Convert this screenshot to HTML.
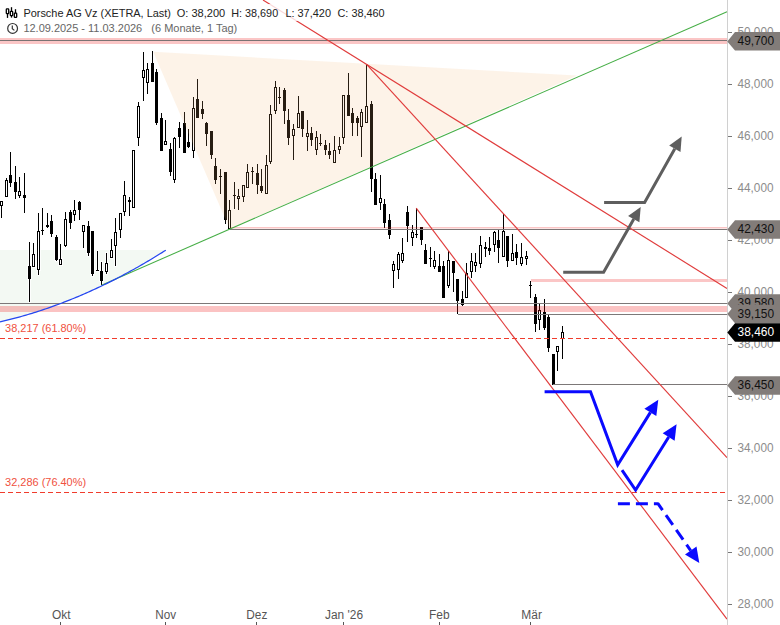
<!DOCTYPE html>
<html><head><meta charset="utf-8"><style>
html,body{margin:0;padding:0;background:#fff;}
body{width:780px;height:625px;overflow:hidden;position:relative;font-family:"Liberation Sans", sans-serif;}
</style></head><body>
<svg width="780" height="625" viewBox="0 0 780 625" style="position:absolute;left:0;top:0" font-family='"Liberation Sans", sans-serif' font-size="12">
<rect width="780" height="625" fill="#fff"/>
<polygon points="0,250 165.8,250 165.8,250.20 164.0,251.34 162.0,252.60 160.0,253.84 158.0,255.08 156.0,256.31 154.0,257.53 152.0,258.74 150.0,259.94 148.0,261.13 146.0,262.31 144.0,263.48 142.0,264.63 140.0,265.78 138.0,266.92 136.0,268.06 134.0,269.18 132.0,270.29 130.0,271.39 128.0,272.48 126.0,273.56 124.0,274.63 122.0,275.69 120.0,276.74 118.0,277.79 116.0,278.82 114.0,279.84 112.0,280.85 110.0,281.85 108.0,282.85 106.0,283.83 104.0,284.80 102.0,285.77 100.0,286.72 98.0,287.66 96.0,288.60 94.0,289.52 92.0,290.44 90.0,291.34 88.0,292.23 86.0,293.12 84.0,293.99 82.0,294.86 80.0,295.72 78.0,296.56 76.0,297.40 74.0,298.22 72.0,299.04 70.0,299.84 68.0,300.64 66.0,301.43 64.0,302.20 62.0,302.97 60.0,303.73 58.0,304.48 56.0,305.21 54.0,305.94 52.0,306.66 50.0,307.37 48.0,308.07 46.0,308.75 44.0,309.43 42.0,310.10 40.0,310.76 38.0,311.41 36.0,312.05 34.0,312.68 32.0,313.30 30.0,313.91 28.0,314.51 26.0,315.10 24.0,315.68 22.0,316.25 20.0,316.81 18.0,317.36 16.0,317.90 14.0,318.43 12.0,318.96 10.0,319.47 8.0,319.97 6.0,320.46 4.0,320.94 2.0,321.42 0.0,321.88" fill="rgb(100,180,100)" fill-opacity="0.08"/>
<g fill="#fff" fill-opacity="0.8" shape-rendering="crispEdges"><rect x="-1" y="200" width="5" height="7"/><rect x="0" y="206" width="3" height="13"/><rect x="4" y="179" width="5" height="19"/><rect x="5" y="177" width="3" height="3"/><rect x="8" y="174" width="5" height="10"/><rect x="9" y="151" width="3" height="24"/><rect x="9" y="183" width="3" height="5"/><rect x="13" y="181" width="5" height="12"/><rect x="14" y="165" width="3" height="17"/><rect x="14" y="192" width="3" height="8"/><rect x="17" y="190" width="5" height="7"/><rect x="18" y="176" width="3" height="15"/><rect x="18" y="196" width="3" height="3"/><rect x="22" y="194" width="5" height="5"/><rect x="23" y="172" width="3" height="23"/><rect x="23" y="198" width="3" height="16"/><rect x="27" y="265" width="5" height="15"/><rect x="28" y="241" width="3" height="25"/><rect x="28" y="279" width="3" height="24"/><rect x="31" y="253" width="5" height="15"/><rect x="32" y="242" width="3" height="12"/><rect x="36" y="230" width="5" height="41"/><rect x="37" y="212" width="3" height="19"/><rect x="37" y="270" width="3" height="6"/><rect x="40" y="229" width="5" height="3"/><rect x="41" y="207" width="3" height="23"/><rect x="41" y="231" width="3" height="5"/><rect x="45" y="224" width="5" height="4"/><rect x="46" y="212" width="3" height="13"/><rect x="46" y="227" width="3" height="2"/><rect x="49" y="220" width="5" height="15"/><rect x="50" y="214" width="3" height="7"/><rect x="50" y="234" width="3" height="4"/><rect x="54" y="236" width="5" height="25"/><rect x="55" y="234" width="3" height="3"/><rect x="55" y="260" width="3" height="2"/><rect x="58" y="258" width="5" height="8"/><rect x="59" y="243" width="3" height="16"/><rect x="63" y="218" width="5" height="29"/><rect x="64" y="211" width="3" height="8"/><rect x="64" y="246" width="3" height="2"/><rect x="68" y="211" width="5" height="13"/><rect x="69" y="209" width="3" height="3"/><rect x="69" y="223" width="3" height="7"/><rect x="72" y="209" width="5" height="7"/><rect x="73" y="199" width="3" height="11"/><rect x="73" y="215" width="3" height="7"/><rect x="77" y="201" width="5" height="10"/><rect x="78" y="200" width="3" height="2"/><rect x="78" y="210" width="3" height="11"/><rect x="81" y="224" width="5" height="9"/><rect x="82" y="232" width="3" height="17"/><rect x="86" y="225" width="5" height="29"/><rect x="87" y="220" width="3" height="6"/><rect x="87" y="253" width="3" height="4"/><rect x="90" y="230" width="5" height="45"/><rect x="91" y="274" width="3" height="3"/><rect x="95" y="269" width="5" height="3"/><rect x="96" y="250" width="3" height="20"/><rect x="99" y="270" width="5" height="12"/><rect x="100" y="261" width="3" height="10"/><rect x="100" y="281" width="3" height="5"/><rect x="104" y="262" width="5" height="11"/><rect x="105" y="252" width="3" height="11"/><rect x="105" y="272" width="3" height="3"/><rect x="109" y="249" width="5" height="10"/><rect x="110" y="238" width="3" height="12"/><rect x="113" y="231" width="5" height="16"/><rect x="114" y="217" width="3" height="15"/><rect x="114" y="246" width="3" height="21"/><rect x="118" y="212" width="5" height="19"/><rect x="119" y="230" width="3" height="9"/><rect x="122" y="194" width="5" height="19"/><rect x="123" y="180" width="3" height="15"/><rect x="123" y="212" width="3" height="5"/><rect x="127" y="199" width="5" height="4"/><rect x="128" y="196" width="3" height="4"/><rect x="128" y="202" width="3" height="15"/><rect x="131" y="149" width="5" height="60"/><rect x="136" y="105" width="5" height="34"/><rect x="137" y="101" width="3" height="5"/><rect x="137" y="138" width="3" height="9"/><rect x="141" y="69" width="5" height="10"/><rect x="142" y="51" width="3" height="19"/><rect x="142" y="78" width="3" height="24"/><rect x="145" y="68" width="5" height="16"/><rect x="146" y="62" width="3" height="7"/><rect x="146" y="83" width="3" height="12"/><rect x="150" y="62" width="5" height="21"/><rect x="151" y="50" width="3" height="13"/><rect x="154" y="71" width="5" height="53"/><rect x="155" y="68" width="3" height="4"/><rect x="155" y="123" width="3" height="3"/><rect x="159" y="117" width="5" height="35"/><rect x="160" y="112" width="3" height="6"/><rect x="163" y="140" width="5" height="6"/><rect x="164" y="119" width="3" height="22"/><rect x="168" y="148" width="5" height="25"/><rect x="169" y="142" width="3" height="7"/><rect x="169" y="172" width="3" height="5"/><rect x="172" y="137" width="5" height="44"/><rect x="173" y="136" width="3" height="2"/><rect x="173" y="180" width="3" height="4"/><rect x="177" y="127" width="5" height="11"/><rect x="178" y="121" width="3" height="7"/><rect x="178" y="137" width="3" height="12"/><rect x="182" y="122" width="5" height="32"/><rect x="183" y="111" width="3" height="12"/><rect x="186" y="141" width="5" height="7"/><rect x="187" y="128" width="3" height="14"/><rect x="187" y="147" width="3" height="2"/><rect x="191" y="107" width="5" height="45"/><rect x="192" y="96" width="3" height="12"/><rect x="192" y="151" width="3" height="8"/><rect x="195" y="98" width="5" height="21"/><rect x="196" y="78" width="3" height="21"/><rect x="200" y="108" width="5" height="7"/><rect x="201" y="100" width="3" height="9"/><rect x="201" y="114" width="3" height="6"/><rect x="204" y="122" width="5" height="13"/><rect x="205" y="121" width="3" height="2"/><rect x="205" y="134" width="3" height="13"/><rect x="209" y="130" width="5" height="26"/><rect x="210" y="155" width="3" height="5"/><rect x="213" y="165" width="5" height="16"/><rect x="214" y="157" width="3" height="9"/><rect x="214" y="180" width="3" height="5"/><rect x="218" y="175" width="5" height="3"/><rect x="219" y="168" width="3" height="8"/><rect x="219" y="177" width="3" height="18"/><rect x="223" y="171" width="5" height="50"/><rect x="224" y="220" width="3" height="5"/><rect x="227" y="209" width="5" height="21"/><rect x="228" y="199" width="3" height="11"/><rect x="232" y="194" width="5" height="3"/><rect x="233" y="181" width="3" height="14"/><rect x="233" y="196" width="3" height="14"/><rect x="236" y="195" width="5" height="5"/><rect x="237" y="188" width="3" height="8"/><rect x="237" y="199" width="3" height="12"/><rect x="241" y="184" width="5" height="14"/><rect x="242" y="197" width="3" height="6"/><rect x="245" y="171" width="5" height="18"/><rect x="246" y="163" width="3" height="9"/><rect x="250" y="170" width="5" height="3"/><rect x="251" y="166" width="3" height="5"/><rect x="251" y="172" width="3" height="13"/><rect x="255" y="172" width="5" height="14"/><rect x="256" y="163" width="3" height="10"/><rect x="256" y="185" width="3" height="10"/><rect x="259" y="185" width="5" height="7"/><rect x="260" y="168" width="3" height="18"/><rect x="260" y="191" width="3" height="3"/><rect x="264" y="164" width="5" height="31"/><rect x="265" y="154" width="3" height="11"/><rect x="268" y="113" width="5" height="50"/><rect x="269" y="104" width="3" height="10"/><rect x="269" y="162" width="3" height="3"/><rect x="273" y="86" width="5" height="26"/><rect x="274" y="80" width="3" height="7"/><rect x="274" y="111" width="3" height="4"/><rect x="277" y="96" width="5" height="3"/><rect x="278" y="86" width="3" height="11"/><rect x="278" y="98" width="3" height="7"/><rect x="282" y="89" width="5" height="23"/><rect x="283" y="87" width="3" height="3"/><rect x="283" y="111" width="3" height="14"/><rect x="286" y="119" width="5" height="20"/><rect x="287" y="108" width="3" height="12"/><rect x="287" y="138" width="3" height="8"/><rect x="291" y="128" width="5" height="9"/><rect x="292" y="123" width="3" height="6"/><rect x="292" y="136" width="3" height="25"/><rect x="296" y="112" width="5" height="17"/><rect x="297" y="95" width="3" height="18"/><rect x="300" y="110" width="5" height="20"/><rect x="301" y="129" width="3" height="9"/><rect x="305" y="132" width="5" height="6"/><rect x="306" y="119" width="3" height="14"/><rect x="306" y="137" width="3" height="15"/><rect x="309" y="132" width="5" height="9"/><rect x="310" y="126" width="3" height="7"/><rect x="310" y="140" width="3" height="7"/><rect x="314" y="136" width="5" height="15"/><rect x="315" y="130" width="3" height="7"/><rect x="315" y="150" width="3" height="6"/><rect x="318" y="142" width="5" height="3"/><rect x="319" y="133" width="3" height="10"/><rect x="319" y="144" width="3" height="3"/><rect x="323" y="144" width="5" height="7"/><rect x="324" y="139" width="3" height="6"/><rect x="324" y="150" width="3" height="6"/><rect x="327" y="150" width="5" height="6"/><rect x="328" y="142" width="3" height="9"/><rect x="328" y="155" width="3" height="5"/><rect x="332" y="149" width="5" height="15"/><rect x="333" y="135" width="3" height="15"/><rect x="337" y="145" width="5" height="6"/><rect x="338" y="136" width="3" height="10"/><rect x="338" y="150" width="3" height="5"/><rect x="341" y="94" width="5" height="45"/><rect x="342" y="138" width="3" height="7"/><rect x="346" y="94" width="5" height="23"/><rect x="347" y="72" width="3" height="23"/><rect x="350" y="112" width="5" height="12"/><rect x="351" y="107" width="3" height="6"/><rect x="351" y="123" width="3" height="14"/><rect x="355" y="117" width="5" height="7"/><rect x="356" y="115" width="3" height="3"/><rect x="356" y="123" width="3" height="14"/><rect x="359" y="111" width="5" height="17"/><rect x="360" y="108" width="3" height="4"/><rect x="360" y="127" width="3" height="31"/><rect x="364" y="105" width="5" height="19"/><rect x="365" y="63" width="3" height="43"/><rect x="369" y="103" width="5" height="77"/><rect x="370" y="100" width="3" height="4"/><rect x="370" y="179" width="3" height="14"/><rect x="373" y="178" width="5" height="28"/><rect x="374" y="172" width="3" height="7"/><rect x="378" y="197" width="5" height="7"/><rect x="379" y="174" width="3" height="24"/><rect x="379" y="203" width="3" height="8"/><rect x="382" y="203" width="5" height="21"/><rect x="383" y="198" width="3" height="6"/><rect x="383" y="223" width="3" height="6"/><rect x="387" y="219" width="5" height="17"/><rect x="388" y="213" width="3" height="7"/><rect x="388" y="235" width="3" height="5"/><rect x="391" y="263" width="5" height="9"/><rect x="392" y="260" width="3" height="4"/><rect x="392" y="271" width="3" height="18"/><rect x="396" y="253" width="5" height="18"/><rect x="397" y="251" width="3" height="3"/><rect x="397" y="270" width="3" height="10"/><rect x="400" y="252" width="5" height="10"/><rect x="401" y="237" width="3" height="16"/><rect x="401" y="261" width="3" height="3"/><rect x="405" y="211" width="5" height="16"/><rect x="406" y="205" width="3" height="7"/><rect x="406" y="226" width="3" height="17"/><rect x="410" y="231" width="5" height="8"/><rect x="411" y="224" width="3" height="8"/><rect x="411" y="238" width="3" height="9"/><rect x="414" y="233" width="5" height="3"/><rect x="415" y="207" width="3" height="27"/><rect x="415" y="235" width="3" height="4"/><rect x="419" y="226" width="5" height="15"/><rect x="420" y="240" width="3" height="6"/><rect x="423" y="249" width="5" height="16"/><rect x="424" y="243" width="3" height="7"/><rect x="428" y="257" width="5" height="3"/><rect x="429" y="246" width="3" height="12"/><rect x="429" y="259" width="3" height="9"/><rect x="432" y="259" width="5" height="9"/><rect x="433" y="250" width="3" height="10"/><rect x="433" y="267" width="3" height="3"/><rect x="437" y="265" width="5" height="8"/><rect x="438" y="253" width="3" height="13"/><rect x="441" y="265" width="5" height="34"/><rect x="442" y="260" width="3" height="6"/><rect x="446" y="259" width="5" height="28"/><rect x="447" y="250" width="3" height="10"/><rect x="447" y="286" width="3" height="3"/><rect x="451" y="260" width="5" height="14"/><rect x="452" y="273" width="3" height="20"/><rect x="455" y="278" width="5" height="24"/><rect x="456" y="301" width="3" height="14"/><rect x="460" y="298" width="5" height="8"/><rect x="461" y="290" width="3" height="9"/><rect x="461" y="305" width="3" height="2"/><rect x="464" y="272" width="5" height="27"/><rect x="465" y="262" width="3" height="11"/><rect x="469" y="260" width="5" height="13"/><rect x="470" y="252" width="3" height="9"/><rect x="470" y="272" width="3" height="7"/><rect x="473" y="261" width="5" height="6"/><rect x="474" y="252" width="3" height="10"/><rect x="474" y="266" width="3" height="7"/><rect x="478" y="244" width="5" height="21"/><rect x="479" y="235" width="3" height="10"/><rect x="479" y="264" width="3" height="5"/><rect x="483" y="246" width="5" height="4"/><rect x="484" y="241" width="3" height="6"/><rect x="484" y="249" width="3" height="9"/><rect x="487" y="247" width="5" height="5"/><rect x="488" y="236" width="3" height="12"/><rect x="488" y="251" width="3" height="5"/><rect x="492" y="231" width="5" height="15"/><rect x="493" y="230" width="3" height="2"/><rect x="493" y="245" width="3" height="8"/><rect x="496" y="239" width="5" height="10"/><rect x="497" y="229" width="3" height="11"/><rect x="497" y="248" width="3" height="16"/><rect x="501" y="230" width="5" height="28"/><rect x="502" y="213" width="3" height="18"/><rect x="505" y="235" width="5" height="27"/><rect x="506" y="261" width="3" height="7"/><rect x="510" y="252" width="5" height="10"/><rect x="511" y="233" width="3" height="20"/><rect x="514" y="251" width="5" height="8"/><rect x="515" y="243" width="3" height="9"/><rect x="515" y="258" width="3" height="8"/><rect x="519" y="256" width="5" height="9"/><rect x="520" y="242" width="3" height="15"/><rect x="520" y="264" width="3" height="3"/><rect x="524" y="255" width="5" height="4"/><rect x="525" y="250" width="3" height="6"/><rect x="525" y="258" width="3" height="8"/><rect x="528" y="284" width="5" height="3"/><rect x="529" y="280" width="3" height="5"/><rect x="529" y="286" width="3" height="13"/><rect x="533" y="296" width="5" height="29"/><rect x="534" y="293" width="3" height="4"/><rect x="534" y="324" width="3" height="9"/><rect x="537" y="309" width="5" height="12"/><rect x="538" y="303" width="3" height="7"/><rect x="538" y="320" width="3" height="11"/><rect x="542" y="311" width="5" height="18"/><rect x="543" y="298" width="3" height="14"/><rect x="543" y="328" width="3" height="3"/><rect x="546" y="316" width="5" height="33"/><rect x="547" y="314" width="3" height="3"/><rect x="547" y="348" width="3" height="5"/><rect x="551" y="353" width="5" height="33"/><rect x="555" y="345" width="5" height="8"/><rect x="556" y="352" width="3" height="20"/><rect x="560" y="331" width="5" height="9"/><rect x="561" y="325" width="3" height="7"/><rect x="561" y="339" width="3" height="21"/></g>
<g fill="#000" shape-rendering="crispEdges"><rect x="1" y="206" width="1" height="12"/><rect x="0" y="201" width="3" height="5"/><rect x="1" y="202" width="1" height="3" fill="#fff"/><rect x="6" y="178" width="1" height="2"/><rect x="5" y="180" width="3" height="17"/><rect x="6" y="181" width="1" height="15" fill="#fff"/><rect x="10" y="152" width="1" height="23"/><rect x="10" y="183" width="1" height="4"/><rect x="9" y="175" width="3" height="8"/><rect x="15" y="166" width="1" height="16"/><rect x="15" y="192" width="1" height="7"/><rect x="14" y="182" width="3" height="10"/><rect x="19" y="177" width="1" height="14"/><rect x="19" y="196" width="1" height="2"/><rect x="18" y="191" width="3" height="5"/><rect x="19" y="192" width="1" height="3" fill="#fff"/><rect x="24" y="173" width="1" height="22"/><rect x="24" y="198" width="1" height="15"/><rect x="23" y="195" width="3" height="3"/><rect x="29" y="242" width="1" height="24"/><rect x="29" y="279" width="1" height="23"/><rect x="28" y="266" width="3" height="13"/><rect x="33" y="243" width="1" height="11"/><rect x="32" y="254" width="3" height="13"/><rect x="33" y="255" width="1" height="11" fill="#fff"/><rect x="38" y="213" width="1" height="18"/><rect x="38" y="270" width="1" height="5"/><rect x="37" y="231" width="3" height="39"/><rect x="38" y="232" width="1" height="37" fill="#fff"/><rect x="42" y="208" width="1" height="22"/><rect x="42" y="231" width="1" height="4"/><rect x="41" y="230" width="3" height="1"/><rect x="47" y="213" width="1" height="12"/><rect x="47" y="227" width="1" height="1"/><rect x="46" y="225" width="3" height="2"/><rect x="51" y="215" width="1" height="6"/><rect x="51" y="234" width="1" height="3"/><rect x="50" y="221" width="3" height="13"/><rect x="56" y="235" width="1" height="2"/><rect x="56" y="260" width="1" height="1"/><rect x="55" y="237" width="3" height="23"/><rect x="60" y="244" width="1" height="15"/><rect x="59" y="259" width="3" height="6"/><rect x="60" y="260" width="1" height="4" fill="#fff"/><rect x="65" y="212" width="1" height="7"/><rect x="65" y="246" width="1" height="1"/><rect x="64" y="219" width="3" height="27"/><rect x="65" y="220" width="1" height="25" fill="#fff"/><rect x="70" y="210" width="1" height="2"/><rect x="70" y="223" width="1" height="6"/><rect x="69" y="212" width="3" height="11"/><rect x="74" y="200" width="1" height="10"/><rect x="74" y="215" width="1" height="6"/><rect x="73" y="210" width="3" height="5"/><rect x="74" y="211" width="1" height="3" fill="#fff"/><rect x="79" y="201" width="1" height="1"/><rect x="79" y="210" width="1" height="10"/><rect x="78" y="202" width="3" height="8"/><rect x="83" y="232" width="1" height="16"/><rect x="82" y="225" width="3" height="7"/><rect x="83" y="226" width="1" height="5" fill="#fff"/><rect x="88" y="221" width="1" height="5"/><rect x="88" y="253" width="1" height="3"/><rect x="87" y="226" width="3" height="27"/><rect x="92" y="274" width="1" height="2"/><rect x="91" y="231" width="3" height="43"/><rect x="97" y="251" width="1" height="19"/><rect x="96" y="270" width="3" height="1"/><rect x="101" y="262" width="1" height="9"/><rect x="101" y="281" width="1" height="4"/><rect x="100" y="271" width="3" height="10"/><rect x="106" y="253" width="1" height="10"/><rect x="106" y="272" width="1" height="2"/><rect x="105" y="263" width="3" height="9"/><rect x="106" y="264" width="1" height="7" fill="#fff"/><rect x="111" y="239" width="1" height="11"/><rect x="110" y="250" width="3" height="8"/><rect x="111" y="251" width="1" height="6" fill="#fff"/><rect x="115" y="218" width="1" height="14"/><rect x="115" y="246" width="1" height="20"/><rect x="114" y="232" width="3" height="14"/><rect x="115" y="233" width="1" height="12" fill="#fff"/><rect x="120" y="230" width="1" height="8"/><rect x="119" y="213" width="3" height="17"/><rect x="120" y="214" width="1" height="15" fill="#fff"/><rect x="124" y="181" width="1" height="14"/><rect x="124" y="212" width="1" height="4"/><rect x="123" y="195" width="3" height="17"/><rect x="124" y="196" width="1" height="15" fill="#fff"/><rect x="129" y="197" width="1" height="3"/><rect x="129" y="202" width="1" height="14"/><rect x="128" y="200" width="3" height="2"/><rect x="132" y="150" width="3" height="58"/><rect x="133" y="151" width="1" height="56" fill="#fff"/><rect x="138" y="102" width="1" height="4"/><rect x="138" y="138" width="1" height="8"/><rect x="137" y="106" width="3" height="32"/><rect x="138" y="107" width="1" height="30" fill="#fff"/><rect x="143" y="52" width="1" height="18"/><rect x="143" y="78" width="1" height="23"/><rect x="142" y="70" width="3" height="8"/><rect x="143" y="71" width="1" height="6" fill="#fff"/><rect x="147" y="63" width="1" height="6"/><rect x="147" y="83" width="1" height="11"/><rect x="146" y="69" width="3" height="14"/><rect x="147" y="70" width="1" height="12" fill="#fff"/><rect x="152" y="51" width="1" height="12"/><rect x="151" y="63" width="3" height="19"/><rect x="156" y="69" width="1" height="3"/><rect x="156" y="123" width="1" height="2"/><rect x="155" y="72" width="3" height="51"/><rect x="161" y="113" width="1" height="5"/><rect x="160" y="118" width="3" height="33"/><rect x="165" y="120" width="1" height="21"/><rect x="164" y="141" width="3" height="4"/><rect x="165" y="142" width="1" height="2" fill="#fff"/><rect x="170" y="143" width="1" height="6"/><rect x="170" y="172" width="1" height="4"/><rect x="169" y="149" width="3" height="23"/><rect x="174" y="137" width="1" height="1"/><rect x="174" y="180" width="1" height="3"/><rect x="173" y="138" width="3" height="42"/><rect x="174" y="139" width="1" height="40" fill="#fff"/><rect x="179" y="122" width="1" height="6"/><rect x="179" y="137" width="1" height="11"/><rect x="178" y="128" width="3" height="9"/><rect x="184" y="112" width="1" height="11"/><rect x="183" y="123" width="3" height="30"/><rect x="188" y="129" width="1" height="13"/><rect x="188" y="147" width="1" height="1"/><rect x="187" y="142" width="3" height="5"/><rect x="193" y="97" width="1" height="11"/><rect x="193" y="151" width="1" height="7"/><rect x="192" y="108" width="3" height="43"/><rect x="193" y="109" width="1" height="41" fill="#fff"/><rect x="197" y="79" width="1" height="20"/><rect x="196" y="99" width="3" height="19"/><rect x="202" y="101" width="1" height="8"/><rect x="202" y="114" width="1" height="5"/><rect x="201" y="109" width="3" height="5"/><rect x="206" y="122" width="1" height="1"/><rect x="206" y="134" width="1" height="12"/><rect x="205" y="123" width="3" height="11"/><rect x="211" y="155" width="1" height="4"/><rect x="210" y="131" width="3" height="24"/><rect x="215" y="158" width="1" height="8"/><rect x="215" y="180" width="1" height="4"/><rect x="214" y="166" width="3" height="14"/><rect x="220" y="169" width="1" height="7"/><rect x="220" y="177" width="1" height="17"/><rect x="219" y="176" width="3" height="1"/><rect x="225" y="220" width="1" height="4"/><rect x="224" y="172" width="3" height="48"/><rect x="229" y="200" width="1" height="10"/><rect x="228" y="210" width="3" height="19"/><rect x="229" y="211" width="1" height="17" fill="#fff"/><rect x="234" y="182" width="1" height="13"/><rect x="234" y="196" width="1" height="13"/><rect x="233" y="195" width="3" height="1"/><rect x="238" y="189" width="1" height="7"/><rect x="238" y="199" width="1" height="11"/><rect x="237" y="196" width="3" height="3"/><rect x="238" y="197" width="1" height="1" fill="#fff"/><rect x="243" y="197" width="1" height="5"/><rect x="242" y="185" width="3" height="12"/><rect x="243" y="186" width="1" height="10" fill="#fff"/><rect x="247" y="164" width="1" height="8"/><rect x="246" y="172" width="3" height="16"/><rect x="247" y="173" width="1" height="14" fill="#fff"/><rect x="252" y="167" width="1" height="4"/><rect x="252" y="172" width="1" height="12"/><rect x="251" y="171" width="3" height="1"/><rect x="257" y="164" width="1" height="9"/><rect x="257" y="185" width="1" height="9"/><rect x="256" y="173" width="3" height="12"/><rect x="261" y="169" width="1" height="17"/><rect x="261" y="191" width="1" height="2"/><rect x="260" y="186" width="3" height="5"/><rect x="266" y="155" width="1" height="10"/><rect x="265" y="165" width="3" height="29"/><rect x="266" y="166" width="1" height="27" fill="#fff"/><rect x="270" y="105" width="1" height="9"/><rect x="270" y="162" width="1" height="2"/><rect x="269" y="114" width="3" height="48"/><rect x="270" y="115" width="1" height="46" fill="#fff"/><rect x="275" y="81" width="1" height="6"/><rect x="275" y="111" width="1" height="3"/><rect x="274" y="87" width="3" height="24"/><rect x="275" y="88" width="1" height="22" fill="#fff"/><rect x="279" y="87" width="1" height="10"/><rect x="279" y="98" width="1" height="6"/><rect x="278" y="97" width="3" height="1"/><rect x="284" y="88" width="1" height="2"/><rect x="284" y="111" width="1" height="13"/><rect x="283" y="90" width="3" height="21"/><rect x="288" y="109" width="1" height="11"/><rect x="288" y="138" width="1" height="7"/><rect x="287" y="120" width="3" height="18"/><rect x="293" y="124" width="1" height="5"/><rect x="293" y="136" width="1" height="24"/><rect x="292" y="129" width="3" height="7"/><rect x="293" y="130" width="1" height="5" fill="#fff"/><rect x="298" y="96" width="1" height="17"/><rect x="297" y="113" width="3" height="15"/><rect x="298" y="114" width="1" height="13" fill="#fff"/><rect x="302" y="129" width="1" height="8"/><rect x="301" y="111" width="3" height="18"/><rect x="307" y="120" width="1" height="13"/><rect x="307" y="137" width="1" height="14"/><rect x="306" y="133" width="3" height="4"/><rect x="307" y="134" width="1" height="2" fill="#fff"/><rect x="311" y="127" width="1" height="6"/><rect x="311" y="140" width="1" height="6"/><rect x="310" y="133" width="3" height="7"/><rect x="316" y="131" width="1" height="6"/><rect x="316" y="150" width="1" height="5"/><rect x="315" y="137" width="3" height="13"/><rect x="316" y="138" width="1" height="11" fill="#fff"/><rect x="320" y="134" width="1" height="9"/><rect x="320" y="144" width="1" height="2"/><rect x="319" y="143" width="3" height="1"/><rect x="325" y="140" width="1" height="5"/><rect x="325" y="150" width="1" height="5"/><rect x="324" y="145" width="3" height="5"/><rect x="329" y="143" width="1" height="8"/><rect x="329" y="155" width="1" height="4"/><rect x="328" y="151" width="3" height="4"/><rect x="334" y="136" width="1" height="14"/><rect x="333" y="150" width="3" height="13"/><rect x="334" y="151" width="1" height="11" fill="#fff"/><rect x="339" y="137" width="1" height="9"/><rect x="339" y="150" width="1" height="4"/><rect x="338" y="146" width="3" height="4"/><rect x="339" y="147" width="1" height="2" fill="#fff"/><rect x="343" y="138" width="1" height="6"/><rect x="342" y="95" width="3" height="43"/><rect x="343" y="96" width="1" height="41" fill="#fff"/><rect x="348" y="73" width="1" height="22"/><rect x="347" y="95" width="3" height="21"/><rect x="352" y="108" width="1" height="5"/><rect x="352" y="123" width="1" height="13"/><rect x="351" y="113" width="3" height="10"/><rect x="357" y="116" width="1" height="2"/><rect x="357" y="123" width="1" height="13"/><rect x="356" y="118" width="3" height="5"/><rect x="361" y="109" width="1" height="3"/><rect x="361" y="127" width="1" height="30"/><rect x="360" y="112" width="3" height="15"/><rect x="361" y="113" width="1" height="13" fill="#fff"/><rect x="366" y="64" width="1" height="42"/><rect x="365" y="106" width="3" height="17"/><rect x="366" y="107" width="1" height="15" fill="#fff"/><rect x="371" y="101" width="1" height="3"/><rect x="371" y="179" width="1" height="13"/><rect x="370" y="104" width="3" height="75"/><rect x="375" y="173" width="1" height="6"/><rect x="374" y="179" width="3" height="26"/><rect x="380" y="175" width="1" height="23"/><rect x="380" y="203" width="1" height="7"/><rect x="379" y="198" width="3" height="5"/><rect x="380" y="199" width="1" height="3" fill="#fff"/><rect x="384" y="199" width="1" height="5"/><rect x="384" y="223" width="1" height="5"/><rect x="383" y="204" width="3" height="19"/><rect x="389" y="214" width="1" height="6"/><rect x="389" y="235" width="1" height="4"/><rect x="388" y="220" width="3" height="15"/><rect x="393" y="261" width="1" height="3"/><rect x="393" y="271" width="1" height="17"/><rect x="392" y="264" width="3" height="7"/><rect x="393" y="265" width="1" height="5" fill="#fff"/><rect x="398" y="252" width="1" height="2"/><rect x="398" y="270" width="1" height="9"/><rect x="397" y="254" width="3" height="16"/><rect x="398" y="255" width="1" height="14" fill="#fff"/><rect x="402" y="238" width="1" height="15"/><rect x="402" y="261" width="1" height="2"/><rect x="401" y="253" width="3" height="8"/><rect x="402" y="254" width="1" height="6" fill="#fff"/><rect x="407" y="206" width="1" height="6"/><rect x="407" y="226" width="1" height="16"/><rect x="406" y="212" width="3" height="14"/><rect x="412" y="225" width="1" height="7"/><rect x="412" y="238" width="1" height="8"/><rect x="411" y="232" width="3" height="6"/><rect x="412" y="233" width="1" height="4" fill="#fff"/><rect x="416" y="208" width="1" height="26"/><rect x="416" y="235" width="1" height="3"/><rect x="415" y="234" width="3" height="1"/><rect x="421" y="240" width="1" height="5"/><rect x="420" y="227" width="3" height="13"/><rect x="425" y="244" width="1" height="6"/><rect x="424" y="250" width="3" height="14"/><rect x="430" y="247" width="1" height="11"/><rect x="430" y="259" width="1" height="8"/><rect x="429" y="258" width="3" height="1"/><rect x="434" y="251" width="1" height="9"/><rect x="434" y="267" width="1" height="2"/><rect x="433" y="260" width="3" height="7"/><rect x="434" y="261" width="1" height="5" fill="#fff"/><rect x="439" y="254" width="1" height="12"/><rect x="438" y="266" width="3" height="6"/><rect x="443" y="261" width="1" height="5"/><rect x="442" y="266" width="3" height="32"/><rect x="448" y="251" width="1" height="9"/><rect x="448" y="286" width="1" height="2"/><rect x="447" y="260" width="3" height="26"/><rect x="448" y="261" width="1" height="24" fill="#fff"/><rect x="453" y="273" width="1" height="19"/><rect x="452" y="261" width="3" height="12"/><rect x="457" y="301" width="1" height="13"/><rect x="456" y="279" width="3" height="22"/><rect x="462" y="291" width="1" height="8"/><rect x="462" y="305" width="1" height="1"/><rect x="461" y="299" width="3" height="6"/><rect x="466" y="263" width="1" height="10"/><rect x="465" y="273" width="3" height="25"/><rect x="466" y="274" width="1" height="23" fill="#fff"/><rect x="471" y="253" width="1" height="8"/><rect x="471" y="272" width="1" height="6"/><rect x="470" y="261" width="3" height="11"/><rect x="471" y="262" width="1" height="9" fill="#fff"/><rect x="475" y="253" width="1" height="9"/><rect x="475" y="266" width="1" height="6"/><rect x="474" y="262" width="3" height="4"/><rect x="475" y="263" width="1" height="2" fill="#fff"/><rect x="480" y="236" width="1" height="9"/><rect x="480" y="264" width="1" height="4"/><rect x="479" y="245" width="3" height="19"/><rect x="480" y="246" width="1" height="17" fill="#fff"/><rect x="485" y="242" width="1" height="5"/><rect x="485" y="249" width="1" height="8"/><rect x="484" y="247" width="3" height="2"/><rect x="489" y="237" width="1" height="11"/><rect x="489" y="251" width="1" height="4"/><rect x="488" y="248" width="3" height="3"/><rect x="494" y="231" width="1" height="1"/><rect x="494" y="245" width="1" height="7"/><rect x="493" y="232" width="3" height="13"/><rect x="494" y="233" width="1" height="11" fill="#fff"/><rect x="498" y="230" width="1" height="10"/><rect x="498" y="248" width="1" height="15"/><rect x="497" y="240" width="3" height="8"/><rect x="503" y="214" width="1" height="17"/><rect x="502" y="231" width="3" height="26"/><rect x="503" y="232" width="1" height="24" fill="#fff"/><rect x="507" y="261" width="1" height="6"/><rect x="506" y="236" width="3" height="25"/><rect x="512" y="234" width="1" height="19"/><rect x="511" y="253" width="3" height="8"/><rect x="512" y="254" width="1" height="6" fill="#fff"/><rect x="516" y="244" width="1" height="8"/><rect x="516" y="258" width="1" height="7"/><rect x="515" y="252" width="3" height="6"/><rect x="521" y="243" width="1" height="14"/><rect x="521" y="264" width="1" height="2"/><rect x="520" y="257" width="3" height="7"/><rect x="521" y="258" width="1" height="5" fill="#fff"/><rect x="526" y="251" width="1" height="5"/><rect x="526" y="258" width="1" height="7"/><rect x="525" y="256" width="3" height="3"/><rect x="526" y="257" width="1" height="1" fill="#fff"/><rect x="530" y="281" width="1" height="4"/><rect x="530" y="286" width="1" height="12"/><rect x="529" y="285" width="3" height="1"/><rect x="535" y="294" width="1" height="3"/><rect x="535" y="324" width="1" height="8"/><rect x="534" y="297" width="3" height="27"/><rect x="539" y="304" width="1" height="6"/><rect x="539" y="320" width="1" height="10"/><rect x="538" y="310" width="3" height="10"/><rect x="539" y="311" width="1" height="8" fill="#fff"/><rect x="544" y="299" width="1" height="13"/><rect x="544" y="328" width="1" height="2"/><rect x="543" y="312" width="3" height="16"/><rect x="548" y="315" width="1" height="2"/><rect x="548" y="348" width="1" height="4"/><rect x="547" y="317" width="3" height="31"/><rect x="552" y="354" width="3" height="31"/><rect x="557" y="352" width="1" height="19"/><rect x="556" y="346" width="3" height="6"/><rect x="557" y="347" width="1" height="4" fill="#fff"/><rect x="562" y="326" width="1" height="6"/><rect x="562" y="339" width="1" height="20"/><rect x="561" y="332" width="3" height="7"/><rect x="562" y="333" width="1" height="5" fill="#fff"/></g>
<g shape-rendering="crispEdges" fill="rgb(240,15,15)">
<rect x="0" y="38" width="727" height="5.5" fill-opacity="0.24"/>
<rect x="230" y="227" width="497" height="1" fill-opacity="0.24"/><rect x="230" y="228" width="497" height="1" fill-opacity="0.12"/>
<rect x="531" y="279" width="196" height="3" fill-opacity="0.24"/>
<rect x="0" y="306" width="727" height="6" fill-opacity="0.25"/>
</g>
<g shape-rendering="crispEdges" fill="#7c7878">
<rect x="0" y="40" width="727" height="1" fill="#7a7373"/>
<rect x="230" y="229" width="497" height="1"/>
<rect x="0" y="303" width="727" height="1"/>
<rect x="458" y="314" width="269" height="1"/>
<rect x="553" y="384" width="174" height="1"/>
</g>
<polygon points="153.2,51.8 577,75.5 229.6,228.7" fill="rgb(240,180,110)" fill-opacity="0.16"/>
<line x1="101.5" y1="285.2" x2="727" y2="11.7" stroke="#46ae46" stroke-width="1.05"/>
<polyline points="0.0,321.88 2.0,321.42 4.0,320.94 6.0,320.46 8.0,319.97 10.0,319.47 12.0,318.96 14.0,318.43 16.0,317.90 18.0,317.36 20.0,316.81 22.0,316.25 24.0,315.68 26.0,315.10 28.0,314.51 30.0,313.91 32.0,313.30 34.0,312.68 36.0,312.05 38.0,311.41 40.0,310.76 42.0,310.10 44.0,309.43 46.0,308.75 48.0,308.07 50.0,307.37 52.0,306.66 54.0,305.94 56.0,305.21 58.0,304.48 60.0,303.73 62.0,302.97 64.0,302.20 66.0,301.43 68.0,300.64 70.0,299.84 72.0,299.04 74.0,298.22 76.0,297.40 78.0,296.56 80.0,295.72 82.0,294.86 84.0,293.99 86.0,293.12 88.0,292.23 90.0,291.34 92.0,290.44 94.0,289.52 96.0,288.60 98.0,287.66 100.0,286.72 102.0,285.77 104.0,284.80 106.0,283.83 108.0,282.85 110.0,281.85 112.0,280.85 114.0,279.84 116.0,278.82 118.0,277.79 120.0,276.74 122.0,275.69 124.0,274.63 126.0,273.56 128.0,272.48 130.0,271.39 132.0,270.29 134.0,269.18 136.0,268.06 138.0,266.92 140.0,265.78 142.0,264.63 144.0,263.48 146.0,262.31 148.0,261.13 150.0,259.94 152.0,258.74 154.0,257.53 156.0,256.31 158.0,255.08 160.0,253.84 162.0,252.60 164.0,251.34 165.8,250.20" fill="none" stroke="#2446f0" stroke-width="1.25"/>
<line x1="263" y1="0" x2="727" y2="288.4" stroke="#e03c3c" stroke-width="1.15"/>
<line x1="366.6" y1="64.3" x2="727" y2="457.6" stroke="#e03c3c" stroke-width="1.15"/>
<line x1="416.2" y1="208.1" x2="727" y2="619.2" stroke="#e03c3c" stroke-width="1.15"/>
<g shape-rendering="crispEdges">
<line x1="0" y1="338.5" x2="725" y2="338.5" stroke="#f03c2c" stroke-width="1" stroke-dasharray="5,3"/>
<line x1="0" y1="492.5" x2="725" y2="492.5" stroke="#f03c2c" stroke-width="1" stroke-dasharray="5,3"/>
</g>
<text x="5.1" y="331.5" font-size="10.2" fill="#f05040" textLength="81" lengthAdjust="spacingAndGlyphs">38,217 (61.80%)</text>
<text x="5.1" y="485.7" font-size="10.2" fill="#f05040" textLength="81" lengthAdjust="spacingAndGlyphs">32,286 (76.40%)</text>
<polyline points="563.2,272.2 603.6,272.2 633.8,219.1" fill="none" stroke="#5e5e5e" stroke-width="3"/><polygon points="640.7,206.9 639.4,222.3 628.1,215.9" fill="#5e5e5e"/><polyline points="604.1,202.4 644.6,202.4 674.8,148.7" fill="none" stroke="#5e5e5e" stroke-width="3"/><polygon points="681.7,136.5 680.5,151.9 669.2,145.5" fill="#5e5e5e"/><polyline points="544.6,391.7 590.5,391.7 617.7,464.8 650.4,412.4" fill="none" stroke="#0a0aff" stroke-width="3"/><polygon points="658.3,399.7 656.3,416.1 644.4,408.7" fill="#0a0aff"/><polyline points="622,470.1 635.6,490.0 668.7,437.0" fill="none" stroke="#0a0aff" stroke-width="3"/><polygon points="676.6,424.3 674.6,440.7 662.7,433.3" fill="#0a0aff"/><polyline points="617.9,503.7 658,503.7 690.7,550.6" fill="none" stroke="#0a0aff" stroke-width="3" stroke-dasharray="12,6" stroke-linejoin="round"/><polygon points="699.3,562.9 685.0,554.6 696.5,546.6" fill="#0a0aff"/>
<rect x="727" y="0" width="1" height="625" fill="#d0d0d0"/>
<rect x="728" y="32" width="4" height="1" fill="#777"/><text x="737.5" y="36.0" fill="#8c8c8c" textLength="36" lengthAdjust="spacingAndGlyphs">50,000</text><rect x="728" y="84" width="4" height="1" fill="#777"/><text x="737.5" y="88.0" fill="#8c8c8c" textLength="36" lengthAdjust="spacingAndGlyphs">48,000</text><rect x="728" y="136" width="4" height="1" fill="#777"/><text x="737.5" y="139.9" fill="#8c8c8c" textLength="36" lengthAdjust="spacingAndGlyphs">46,000</text><rect x="728" y="188" width="4" height="1" fill="#777"/><text x="737.5" y="191.9" fill="#8c8c8c" textLength="36" lengthAdjust="spacingAndGlyphs">44,000</text><rect x="728" y="240" width="4" height="1" fill="#777"/><text x="737.5" y="243.8" fill="#8c8c8c" textLength="36" lengthAdjust="spacingAndGlyphs">42,000</text><rect x="728" y="292" width="4" height="1" fill="#777"/><text x="737.5" y="295.8" fill="#8c8c8c" textLength="36" lengthAdjust="spacingAndGlyphs">40,000</text><rect x="728" y="344" width="4" height="1" fill="#777"/><text x="737.5" y="347.8" fill="#8c8c8c" textLength="36" lengthAdjust="spacingAndGlyphs">38,000</text><rect x="728" y="396" width="4" height="1" fill="#777"/><text x="737.5" y="399.8" fill="#8c8c8c" textLength="36" lengthAdjust="spacingAndGlyphs">36,000</text><rect x="728" y="448" width="4" height="1" fill="#777"/><text x="737.5" y="451.7" fill="#8c8c8c" textLength="36" lengthAdjust="spacingAndGlyphs">34,000</text><rect x="728" y="500" width="4" height="1" fill="#777"/><text x="737.5" y="503.7" fill="#8c8c8c" textLength="36" lengthAdjust="spacingAndGlyphs">32,000</text><rect x="728" y="552" width="4" height="1" fill="#777"/><text x="737.5" y="555.7" fill="#8c8c8c" textLength="36" lengthAdjust="spacingAndGlyphs">30,000</text><rect x="728" y="604" width="4" height="1" fill="#777"/><text x="737.5" y="607.6" fill="#8c8c8c" textLength="36" lengthAdjust="spacingAndGlyphs">28,000</text>
<polygon points="727.3,41.4 735,32.1 780,32.1 780,50.6 735,50.6" fill="#827c79"/><text x="737.6" y="45.2" fill="#111" font-size="12.4" textLength="36.5" lengthAdjust="spacingAndGlyphs">49,700</text><polygon points="727.3,229.4 735,220.2 780,220.2 780,238.7 735,238.7" fill="#827c79"/><text x="737.6" y="233.3" fill="#111" font-size="12.4" textLength="36.5" lengthAdjust="spacingAndGlyphs">42,430</text><polygon points="727.3,303.4 735,294.2 780,294.2 780,312.7 735,312.7" fill="#827c79"/><text x="737.6" y="307.3" fill="#111" font-size="12.4" textLength="36.5" lengthAdjust="spacingAndGlyphs">39,580</text><polygon points="727.3,313.9 735,304.7 780,304.7 780,323.2 735,323.2" fill="#827c79"/><text x="737.6" y="317.8" fill="#111" font-size="12.4" textLength="36.5" lengthAdjust="spacingAndGlyphs">39,150</text><polygon points="727.3,332.4 735,323.2 780,323.2 780,341.7 735,341.7" fill="#000"/><text x="737.6" y="336.3" fill="#fff" font-size="12.4" textLength="36.5" lengthAdjust="spacingAndGlyphs">38,460</text><polygon points="727.3,385.5 735,376.2 780,376.2 780,394.8 735,394.8" fill="#827c79"/><text x="737.6" y="389.4" fill="#111" font-size="12.4" textLength="36.5" lengthAdjust="spacingAndGlyphs">36,450</text>
<g fill="#555">
<text x="52" y="619" textLength="18.6" lengthAdjust="spacingAndGlyphs">Okt</text>
<text x="155.3" y="619" textLength="20.8" lengthAdjust="spacingAndGlyphs">Nov</text>
<text x="246.3" y="619" textLength="21" lengthAdjust="spacingAndGlyphs">Dez</text>
<text x="325" y="619" textLength="38" lengthAdjust="spacingAndGlyphs">Jan '26</text>
<text x="429" y="619" textLength="20.6" lengthAdjust="spacingAndGlyphs">Feb</text>
<text x="521.3" y="619" textLength="20.6" lengthAdjust="spacingAndGlyphs">Mär</text>
</g>
<g fill="#555" shape-rendering="crispEdges">
<rect x="60" y="622" width="1" height="3"/><rect x="165" y="622" width="1" height="3"/><rect x="256" y="622" width="1" height="3"/><rect x="343" y="622" width="1" height="3"/><rect x="439" y="622" width="1" height="3"/><rect x="530" y="622" width="1" height="3"/>
</g>
<rect x="0" y="4" width="392" height="17" fill="#fff" fill-opacity="0.8"/>
<g fill="none" stroke="#000" stroke-width="1.3">
<rect x="6.3" y="8.9" width="2.4" height="4.8" rx="0.6"/><line x1="7.5" y1="13.7" x2="7.5" y2="17.9"/>
<rect x="10.3" y="11.3" width="2.4" height="4.4" rx="0.6"/><line x1="11.5" y1="7.2" x2="11.5" y2="11.3"/><line x1="11.5" y1="15.7" x2="11.5" y2="17.6"/>
<rect x="14.3" y="13.2" width="2.4" height="4.2" rx="0.6"/><line x1="15.5" y1="9.2" x2="15.5" y2="13.2"/>
</g>
<circle cx="12.6" cy="28.4" r="4.9" fill="none" stroke="#333" stroke-width="1.2"/>
<polyline points="12.3,25.6 12.3,28.6 14.4,30.4" fill="none" stroke="#333" stroke-width="1.2"/>
<g font-size="11.4">
<text x="23.4" y="17" fill="#222" textLength="147.6" lengthAdjust="spacingAndGlyphs">Porsche AG Vz (XETRA, Last)</text>
<text x="176.8" y="17" fill="#222" textLength="48.4" lengthAdjust="spacingAndGlyphs">O: 38,200</text>
<text x="231.2" y="17" fill="#222" textLength="47" lengthAdjust="spacingAndGlyphs">H: 38,690</text>
<text x="285.4" y="17" fill="#222" textLength="45.6" lengthAdjust="spacingAndGlyphs">L: 37,420</text>
<text x="337.5" y="17" fill="#222" textLength="47.1" lengthAdjust="spacingAndGlyphs">C: 38,460</text>
<text x="23.4" y="32.3" fill="#666" textLength="118.8" lengthAdjust="spacingAndGlyphs">12.09.2025 - 11.03.2026</text>
<text x="151.3" y="32.3" fill="#666" textLength="86" lengthAdjust="spacingAndGlyphs">(6 Monate, 1 Tag)</text>
</g>
</svg>
</body></html>
